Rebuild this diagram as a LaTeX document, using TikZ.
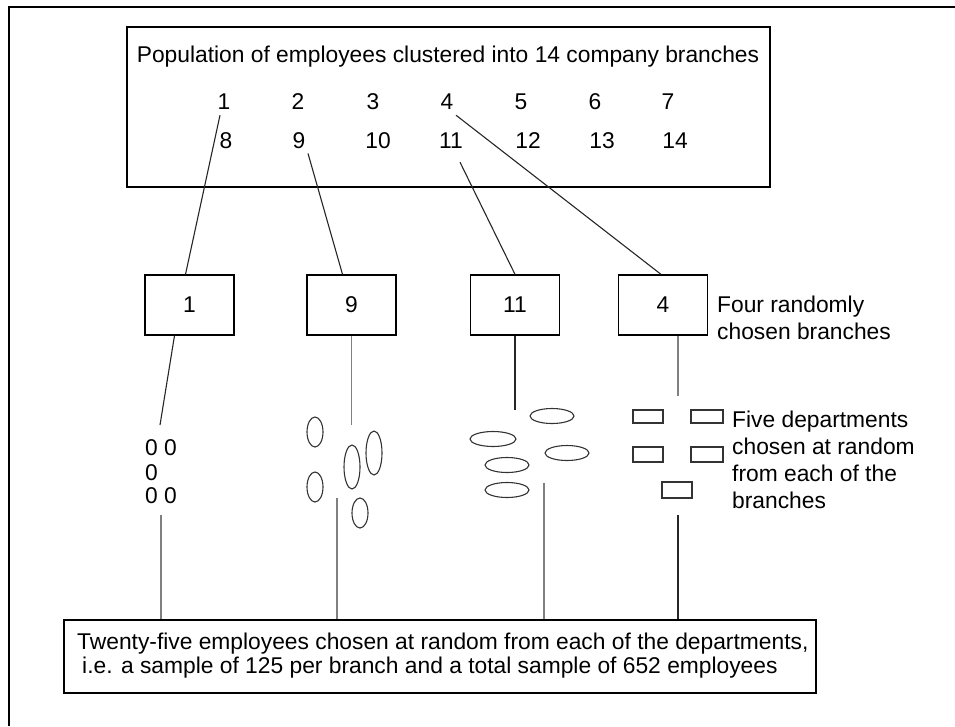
\documentclass[tikz,border=0pt]{standalone}
\usepackage{fontspec}
\setmainfont{Liberation Sans}
\usetikzlibrary{calc}
\begin{document}
\begin{tikzpicture}[x=1pt,y=-1pt,
  lbl/.style={font=\fontsize{22.8}{27}\selectfont, inner sep=0pt},
  num/.style={lbl, anchor=base},
  framebox/.style={draw, line width=1.3pt, inner sep=0pt},
  branchbox/.style={framebox, minimum width=89pt, minimum height=60pt, font=\fontsize{22.8}{27}\selectfont},
  link/.style={line width=1.1pt, draw=black!85},
  greylink/.style={line width=1.1pt, draw=black!50},
  dept/.style={line width=1.1pt, draw=black!80},
]
\useasboundingbox (0,0) rectangle (955,726);

% outer frame (top and left edges)
\draw[line width=2pt] (9,726) -- (9,7) -- (955,7);

% population of branches
\node[framebox, minimum width=643pt, minimum height=160pt] (pop) at (448.5,107) {};
\node[lbl, anchor=base] (title) at (448,62) {Population of employees clustered into 14 company branches};
\foreach \n/\x in {1/224,2/298,3/373,4/447,5/521,6/595,7/668}
  \node[num] (n\n) at (\x,109) {\n};
\foreach \n/\x in {8/226,9/299,10/378,11/451,12/528,13/602,14/675}
  \node[num] (n\n) at (\x,148) {\n};

% chosen branches
\node[branchbox] (b1)  at (189.5,305) {1};
\node[branchbox] (b9)  at (351.5,305) {9};
\node[branchbox] (b11) at (515,305) {11};
\node[branchbox] (b4)  at (663,305) {4};

\draw[link] ($(n1.south)+(-4,6)$) -- ($(b1.north)+(-4,0)$);
\draw[link] ($(n9.south)+(9,5)$) -- ($(b9.north)+(-9,0)$);
\draw[link] ($(n11.south)+(9,14)$) -- (b11.north);
\draw[link] ($(n4.south)+(9,6)$) -- ($(b4.north)+(-2,0)$);

% multi-line labels: the base anchor sits on the last line
\node[lbl, align=left, anchor=base west] (lblbranch) at (717,339) {Four randomly\\chosen branches};

% departments of each branch
\coordinate (d1) at (160,425);
\coordinate (d9) at (351.5,425);
\coordinate (d11) at (515,410);
\coordinate (d4) at (678,396);
\draw[link] ($(b1.south)+(-15,0)$) -- (d1);
\draw[greylink] (b9.south) -- (d9);
\draw[link] (b11.south) -- (d11);
\draw[greylink] ($(b4.south)+(15,0)$) -- (d4);

\node[lbl, anchor=base west] (z1) at (145,455) {0 0};
\node[lbl, anchor=base west] (z2) at (145,480) {0};
\node[lbl, anchor=base west] (z3) at (145,503) {0 0};

\draw[dept] (315,432) ellipse [x radius=8, y radius=15];
\draw[dept] (315,487) ellipse [x radius=8, y radius=15];
\draw[dept] (352,467) ellipse [x radius=8, y radius=22];
\draw[dept] (374,453) ellipse [x radius=8, y radius=22];
\draw[dept] (360,513) ellipse [x radius=8, y radius=15];

\draw[dept] (552,416) ellipse [x radius=22, y radius=7.5];
\draw[dept] (493,439) ellipse [x radius=23, y radius=7.5];
\draw[dept] (567,453) ellipse [x radius=22, y radius=7.5];
\draw[dept] (507,465) ellipse [x radius=22, y radius=7.5];
\draw[dept] (507,490) ellipse [x radius=22, y radius=7.5];

\draw[dept] (633,410) rectangle (663,423);
\draw[dept] (691,410) rectangle (723,423);
\draw[dept] (633,447) rectangle (663,462);
\draw[dept] (691,447) rectangle (723,462);
\draw[dept] (662,482) rectangle (692,498);

\node[lbl, align=left, anchor=base west] (lbldept) at (732,508) {Five departments\\chosen at random\\from each of the\\branches};

% final sample
\node[framebox, minimum width=752pt, minimum height=73pt] (sample) at (440,656.5) {};
\node[lbl, align=left, anchor=base west, font=\fontsize{22.8}{24}\selectfont] (sampletext) at (77,673)
  {Twenty-five employees chosen at random from each of the departments,\\\hspace*{5pt}i.e. a sample of 125 per branch and a total sample of 652 employees};

\coordinate (u1) at (161,515);
\coordinate (u9) at (337,498);
\coordinate (u11) at (544,483);
\coordinate (u4) at (678,515);
\draw[greylink] (u1) -- (u1 |- sample.north);
\draw[greylink] (u9) -- (u9 |- sample.north);
\draw[greylink] (u11) -- (u11 |- sample.north);
\draw[link] (u4) -- (u4 |- sample.north);
\end{tikzpicture}
\end{document}
